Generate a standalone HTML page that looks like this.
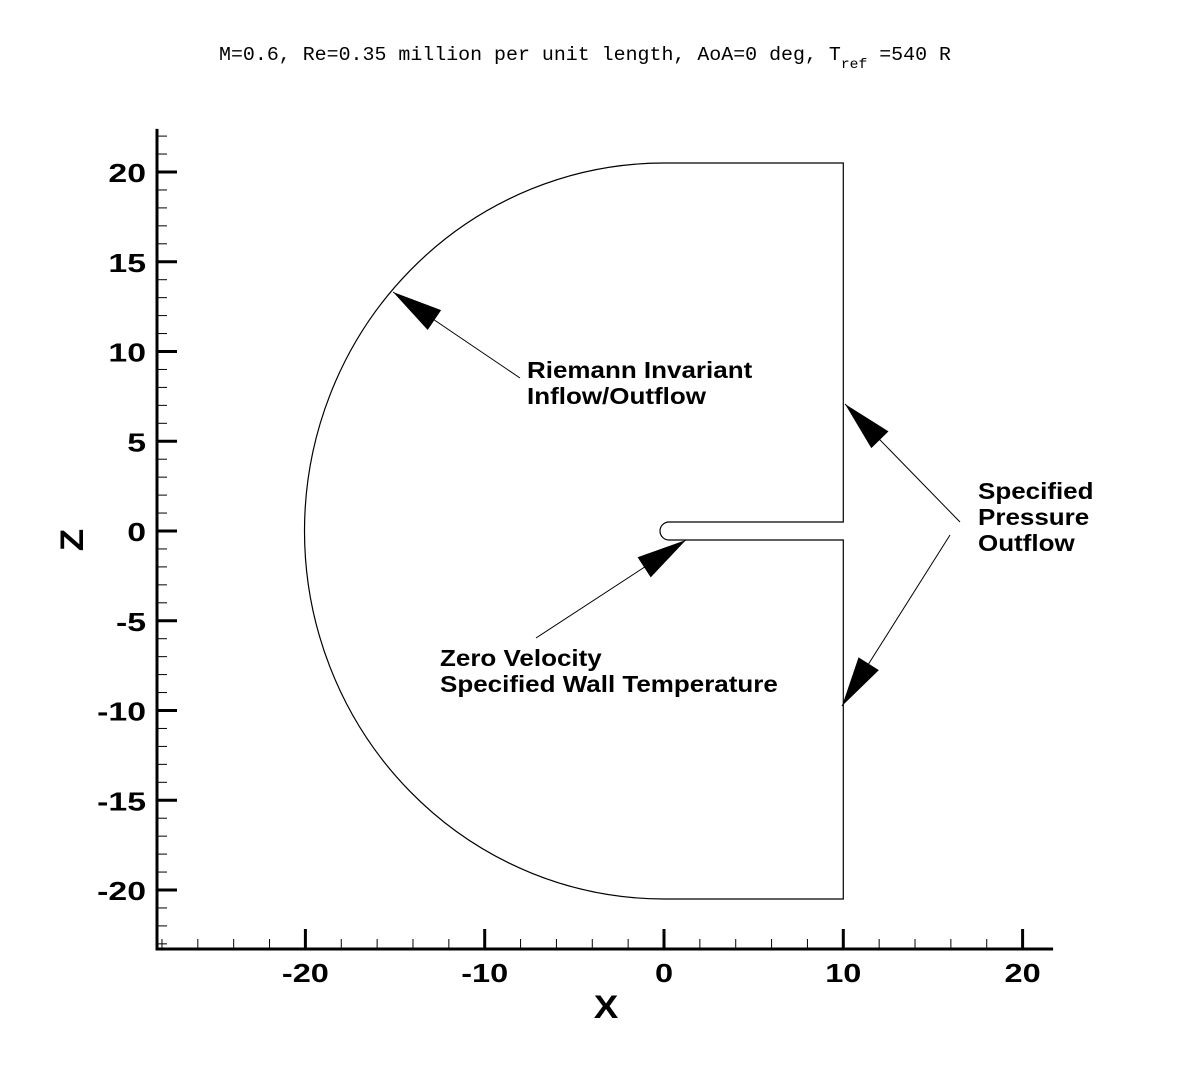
<!DOCTYPE html>
<html><head><meta charset="utf-8"><style>
html,body{margin:0;padding:0;background:#fff;}
svg{display:block;}
text{font-family:"Liberation Sans",sans-serif;}
</style></head><body>
<svg width="1200" height="1068" viewBox="0 0 1200 1068">
<text x="585" y="60" font-family="Liberation Mono" font-size="19" text-anchor="middle" textLength="732" lengthAdjust="spacingAndGlyphs" style="font-family:'Liberation Mono',monospace">M=0.6, Re=0.35 million per unit length, AoA=0 deg, T<tspan font-size="14" dy="8">ref</tspan><tspan dy="-8"> =540 R</tspan></text>
<g id="axes"></g>
<g id="geom"></g>
<g id="ann"></g>
</svg>
<script>
const xTicks=[-20,-10,0,10,20];
const zTicks=[-20,-15,-10,-5,0,5,10,15,20];
const xRange=[-28.3,21.7];
const zRange=[-23.1,22.4];
const NS="http://www.w3.org/2000/svg";
const X0=664,KX=17.93,Z0=531,KZ=17.95;
const sx=v=>X0+v*KX, sz=v=>Z0-v*KZ;
function mk(p,tag,a){const e=document.createElementNS(NS,tag);for(const k in a)e.setAttribute(k,a[k]);p.appendChild(e);return e;}
const ax=document.getElementById('axes');
const yl=mk(ax,'line',{x1:157,y1:sz(zRange[1]),x2:157,y2:949,stroke:'#000','stroke-width':3});


const xl=mk(ax,'line',{x1:155.5,y1:949,x2:sx(xRange[1]),y2:949,stroke:'#000','stroke-width':3});


for(let v=Math.ceil(zRange[0]);v<=zRange[1];v++){
  const maj=zTicks.includes(v);
  const t=mk(ax,'line',{x1:157,y1:sz(v),x2:157+(maj?20:10),y2:sz(v),stroke:'#000','stroke-width':maj?3:1});
  
  
}
zTicks.forEach(v=>{const t=mk(ax,'text',{x:0,y:0,'font-size':26,'font-weight':'bold','text-anchor':'end',transform:`translate(146,${sz(v)+10}) scale(1.3,1)`});t.textContent=v;

});
for(let v=-28;v<=xRange[1];v+=2){
  const maj=xTicks.includes(v);
  const t=mk(ax,'line',{x1:sx(v),y1:949,x2:sx(v),y2:949-(maj?20:10),stroke:'#000','stroke-width':maj?3:1});
  
  
}
xTicks.forEach(v=>{const t=mk(ax,'text',{x:0,y:0,'font-size':26,'font-weight':'bold','text-anchor':'middle',transform:`translate(${sx(v)},${982}) scale(1.25,1)`});t.textContent=v;

});
const xt=mk(ax,'text',{x:0,y:0,'font-size':32,'font-weight':'bold','text-anchor':'middle',transform:'translate(606,1018) scale(1.15,1)'});xt.textContent='X';


const zt=mk(ax,'text',{x:0,y:0,'font-size':32,'font-weight':'bold','text-anchor':'middle',transform:'translate(83,540) rotate(-90) scale(1.15,1)'});zt.textContent='Z';


const g=document.getElementById('geom');
const zTopPx=sz(20.5),zBotPx=sz(-20.5),R=sx(0)-sx(-20.05);
const d=`M${sx(0)},${zTopPx} L${sx(10)},${zTopPx} L${sx(10)},522 L669,522 A9,9 0 0 0 669,540 L${sx(10)},540 L${sx(10)},${zBotPx} L${sx(0)},${zBotPx} A${R},${(zBotPx-zTopPx)/2} 0 0 1 ${sx(0)},${zTopPx} Z`;
const b=mk(g,'path',{d:d,fill:'none',stroke:'#000','stroke-width':1.2});


const an=document.getElementById('ann');
function arrow(x1,y1,tx,ty,name){
  const l=mk(an,'line',{x1:x1,y1:y1,x2:tx,y2:ty,stroke:'#000','stroke-width':1});
  
  
  const dx=x1-tx,dy=y1-ty,L=Math.hypot(dx,dy),ux=dx/L,uy=dy/L,hl=50,hw=12;
  const bx=tx+ux*hl,by=ty+uy*hl;
  const p=mk(an,'polygon',{points:`${tx},${ty} ${bx-uy*hw},${by+ux*hw} ${bx+uy*hw},${by-ux*hw}`,fill:'#000'});
  
  
}
arrow(520,378,393,292,'riemann-arrow');
arrow(960,522,845,404,'pressure-arrow-upper');
arrow(950,535,842,706,'pressure-arrow-lower');
arrow(536,638,686,540,'wall-arrow');
function label(x,y,lines,name){
  const t=mk(an,'text',{x:0,y:0,'font-size':23,'font-weight':'bold',transform:`translate(${x},${y}) scale(1.13,1)`});
  
  
  lines.forEach((s,i)=>{const ts=mk(t,'tspan',{x:0,dy:i?26:0});ts.textContent=s;});
}
label(527,378,['Riemann Invariant','Inflow/Outflow'],'riemann-label');
label(978,499,['Specified','Pressure','Outflow'],'pressure-label');
label(440,666,['Zero Velocity','Specified Wall Temperature'],'wall-label');
</script>
</body></html>
